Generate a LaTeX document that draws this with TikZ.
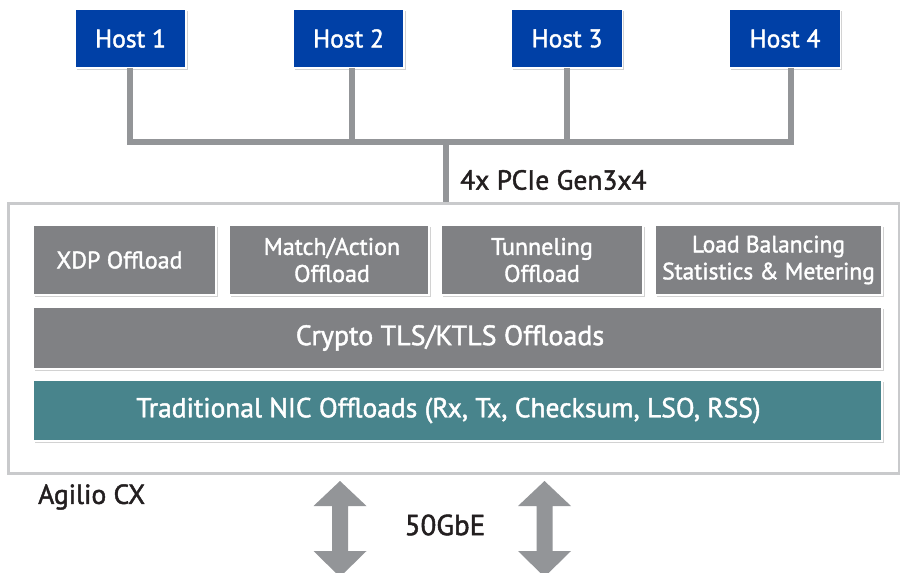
\documentclass[tikz,border=0pt]{standalone}
\usepackage{fontspec}
\setmainfont{PT Sans}[FakeBold=1.6]
\usetikzlibrary{shadows,calc}
\definecolor{hostblue}{HTML}{0040A6}
\definecolor{boxgray}{HTML}{808184}
\definecolor{boxteal}{HTML}{48848C}
\definecolor{linegray}{HTML}{939598}
\definecolor{framegray}{HTML}{C9CACC}
\definecolor{txt}{HTML}{231F20}
\tikzset{
  hostbox/.style={draw=white, line width=1.5pt, fill=hostblue, text=white, minimum width=111pt, minimum height=59pt, inner sep=0pt, font=\fontsize{25.5}{27}\selectfont, drop shadow={shadow xshift=1.5pt, shadow yshift=-1.5pt, opacity=0.35}},
  offbox/.style={draw=white, line width=1.5pt, fill=boxgray, text=white, inner sep=0pt, align=center, font=\fontsize{24}{26}\selectfont, drop shadow={shadow xshift=2pt, shadow yshift=-2pt, opacity=0.35}},
  bus/.style={draw=linegray, line width=6pt},
  label/.style={text=txt, font=\fontsize{27.5}{30}\selectfont, inner sep=0pt},
  biarrow/.style={fill=linegray, draw=none}
}
\begin{document}
\begin{tikzpicture}[x=1pt,y=-1pt]
\clip (0,0) rectangle (900,573);
\fill[white] (0,0) rectangle (900,573);
% outer frame
\node[draw=framegray, line width=3pt, minimum width=891pt, minimum height=270pt, inner sep=0pt] (card) at (453.5,338) {};
% hosts
\node[hostbox] (h1) at (130.5,38.5) {Host 1};
\node[hostbox] (h2) at (348.5,38.5) {Host 2};
\node[hostbox] (h3) at (567,38.5) {Host 3};
\node[hostbox] (h4) at (785,38.5) {Host 4};
\coordinate (trunk) at (446,142);
% bus
\draw[bus] ([xshift=-0.5pt,yshift=1pt]h1.south) |- ([xshift=6pt]h4.south |- trunk) -- ([xshift=6pt,yshift=1pt]h4.south);
\draw[bus] ([xshift=3.5pt,yshift=1pt]h2.south) -- ([xshift=3.5pt]h2.south |- trunk);
\draw[bus] ([yshift=1pt]h3.south) -- (h3.south |- trunk);
\draw[bus] (trunk) -- (trunk |- card.north);
\node[label, anchor=west] (pcie) at (460,180) {4x PCIe Gen3x4};
% offload boxes
\node[offbox, minimum width=183pt, minimum height=70pt] (xdp) at (124.5,260) {XDP Offload\kern10pt};
\node[offbox, minimum width=200pt, minimum height=70pt] (ma) at (329,260) {\kern6pt Match/Action\\[1pt]\kern6pt Offload};
\node[offbox, minimum width=202pt, minimum height=70pt] (tun) at (542,260) {Tunneling\\[1pt]Offload};
\node[offbox, minimum width=227pt, minimum height=70pt, font=\fontsize{23.5}{26}\selectfont] (lb) at (768.5,260) {Load Balancing\\[1pt]Statistics \& Metering};
\node[offbox, minimum width=849pt, minimum height=62pt, font=\fontsize{28}{30}\selectfont] (crypto) at (457.5,338) {Crypto TLS/KTLS Offloads\kern15pt};
\node[offbox, fill=boxteal, minimum width=849pt, minimum height=61pt, font=\fontsize{27.5}{30}\selectfont] (nic) at (457.5,410.5) {Traditional NIC Offloads (Rx, Tx, Checksum, LSO, RSS)\kern18pt};
% bottom labels
\node[label, anchor=west] (agilio) at (38,497) {Agilio CX};
\node[label, font=\fontsize{29}{31}\selectfont] (gbe) at (445,525) {50GbE};
% double arrows
\foreach \cx in {340, 544.5}{
  \fill[biarrow] (\cx,481) -- (\cx+26.5,506) -- (\cx+8,506) -- (\cx+8,551) -- (\cx+26.5,551) -- (\cx,577) -- (\cx-26.5,551) -- (\cx-8,551) -- (\cx-8,506) -- (\cx-26.5,506) -- cycle;
}
\end{tikzpicture}
\end{document}
